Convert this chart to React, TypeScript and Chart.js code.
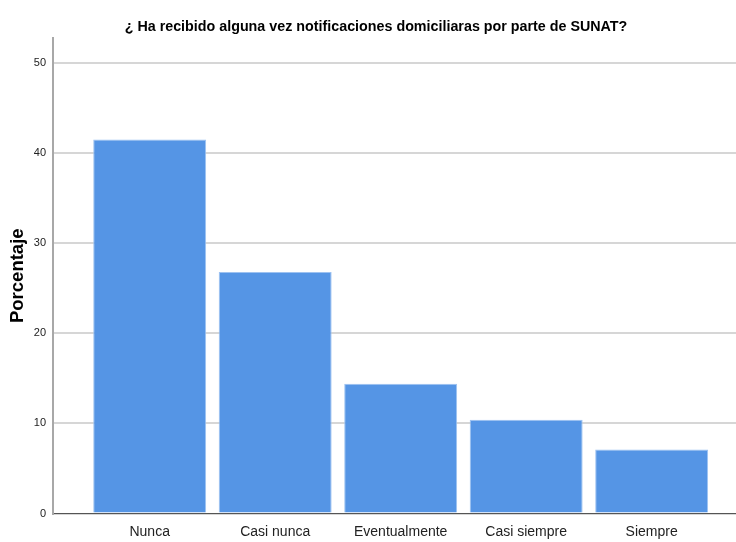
import React, { useEffect, useRef } from "react";
import { Chart, registerables } from "chart.js";

Chart.register(...registerables);

const TITLE = "¿ Ha recibido alguna vez notificaciones domiciliaras por parte de SUNAT?";
const Y_TITLE = "Porcentaje";
const categories = ["Nunca", "Casi nunca", "Eventualmente", "Casi siempre", "Siempre"];
const percentages = [41.5, 26.8, 14.4, 10.4, 7.1];
const yTicks = [0, 10, 20, 30, 40, 50];

const FONT = "'Liberation Sans', Arial, sans-serif";

export default function App() {
  const ref = useRef<HTMLCanvasElement | null>(null);

  useEffect(() => {
    document.body.style.margin = "0";
    const canvas = ref.current;
    if (!canvas) return;
    const chart = new Chart(canvas, {
      type: "bar",
      data: {
        datasets: [
          {
            data: percentages.map((v, i) => ({ x: i + 1, y: v })),
            backgroundColor: "#5595e5",
            borderColor: "#9dc2f1",
            borderWidth: 1,
            categoryPercentage: 1,
            barPercentage: 0.9,
          },
        ],
      },
      options: {
        responsive: false,
        animation: false,
        devicePixelRatio: 1,
        layout: { padding: { left: 16, right: 0, top: 0, bottom: 0 } },
        plugins: {
          legend: { display: false },
          tooltip: { enabled: false },
          title: {
            display: true,
            text: TITLE,
            color: "#000",
            font: { family: FONT, size: 14.3, weight: "bold" },
            padding: { top: 18.4, bottom: 2.4 },
          },
        },
        scales: {
          x: {
            type: "linear",
            offset: false,
            bounds: "data",
            min: 0.2295,
            max: 5.672,
            grid: { display: false, drawTicks: false, offset: false },
            border: { display: true, color: "#555", width: 1 },
            afterFit: (s: any) => {
              s.height = 28.5;
            },
            afterBuildTicks: (s: any) => {
              s.ticks = categories.map((_, i) => ({ value: i + 1 }));
            },
            ticks: {
              autoSkip: false,
              maxRotation: 0,
              minRotation: 0,
              padding: 10,
              color: "#222",
              font: { family: FONT, size: 14 },
              callback: (v: any) => categories[Number(v) - 1] ?? "",
            },
          },
          y: {
            type: "linear",
            min: 0,
            max: 52.75,
            grid: { color: "#d6d6d6", lineWidth: 2, drawTicks: false },
            border: { display: true, color: "#a8a8a8", width: 2 },
            afterFit: (s: any) => {
              s.width = 37;
            },
            afterBuildTicks: (s: any) => {
              s.ticks = yTicks.map((v) => ({ value: v }));
            },
            ticks: {
              padding: 7,
              color: "#222",
              font: { family: FONT, size: 11 },
            },
            title: {
              display: true,
              text: Y_TITLE,
              color: "#000",
              font: { family: FONT, size: 18.5, weight: "bold" },
              padding: { top: -9.1, bottom: 0 },
            },
          },
        },
      },
    } as any);
    return () => chart.destroy();
  }, []);

  return <canvas ref={ref} width={736} height={542} style={{ display: "block" }} />;
}
